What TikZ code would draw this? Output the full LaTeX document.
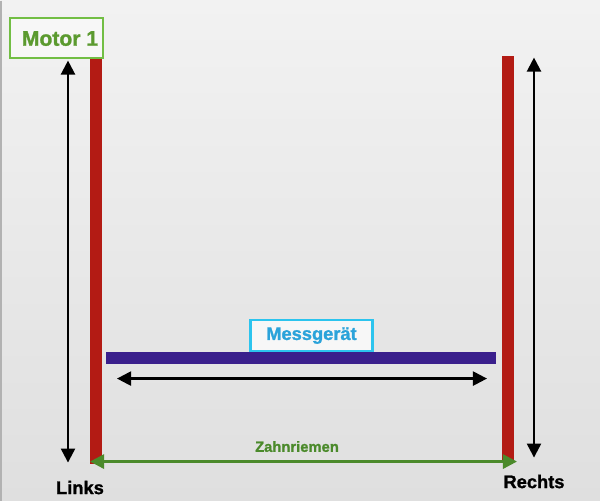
\documentclass[tikz,border=0pt]{standalone}
\usepackage{fontspec}
\setmainfont{Liberation Sans}
\newfontfamily\heavyfont{Liberation Sans Bold}[FakeBold=1.3]
\usetikzlibrary{arrows.meta,positioning}

\definecolor{bgtop}{HTML}{F2F2F2}
\definecolor{bgbot}{HTML}{DFDFDF}
\definecolor{railred}{HTML}{B31B14}
\definecolor{barblue}{HTML}{3A1F8C}
\definecolor{motorgreen}{HTML}{5B9A2F}
\definecolor{motorframe}{HTML}{72BE44}
\definecolor{beltgreen}{HTML}{4B8A2B}
\definecolor{gaugecyan}{HTML}{2BA3DA}
\definecolor{gaugeframe}{HTML}{2CC4EE}

\begin{document}
\begin{tikzpicture}[x=0.025cm, y=-0.025cm,
  rail/.style={fill=railred, draw=none},
  twoway/.style={line width=1.6pt, {Triangle[length=10pt, width=10pt]}-{Triangle[length=10pt, width=10pt]}},
  tag/.style={inner sep=0pt},
  framed/.style={draw, line width=1.5pt, inner sep=0pt, fill=bgtop!60}
]

% background
\shade[top color=bgtop, bottom color=bgbot] (0,0) rectangle (600,500);
\draw[gray!60, line width=0.8pt] (1,0) -- (1,500);
\useasboundingbox (0,0) rectangle (600,500);

% rails
\fill[rail] (90,58) rectangle (102,463);
\fill[rail] (502,55) rectangle (514,460);

% measuring bar
\fill[barblue] (106,351) rectangle (496,363);

% motor label
\node[framed, draw=motorframe, minimum width=93*0.025cm, minimum height=40*0.025cm] (motor) at (56.5,37) {};
\node[tag, text=motorgreen, font=\heavyfont\fontsize{15}{15}\selectfont] (motortxt) at (60,38) {Motor 1};

% gauge label
\node[framed, draw=gaugeframe, minimum width=122*0.025cm, minimum height=31*0.025cm] (gauge) at (311.5,334.5) {};
\node[tag, text=gaugecyan, font=\heavyfont\fontsize{13}{13}\selectfont] (gaugetxt) at (311.5,335) {Messgerät};

% end coordinates
\coordinate (lefttop) at (68,60);
\coordinate (leftbot) at (68,462);
\coordinate (righttop) at (534,57);
\coordinate (rightbot) at (534,457);
\coordinate (barleft) at (117,378);
\coordinate (barright) at (487,378);
\coordinate (beltleft) at (90,461);
\coordinate (beltright) at (517,461);

% arrows
\draw[twoway] (lefttop) -- (leftbot);
\draw[twoway] (righttop) -- (rightbot);
\draw[twoway] (barleft) -- (barright);
\draw[twoway, beltgreen, line width=2pt] (beltleft) -- (beltright);

% labels
\node[tag, text=beltgreen, font=\heavyfont\fontsize{10.5}{11}\selectfont] (belt) at (297,446) {Zahnriemen};
\node[tag, font=\heavyfont\fontsize{13}{13}\selectfont] (links) at (80,487) {Links};
\node[tag, font=\heavyfont\fontsize{13}{13}\selectfont] (rechts) at (534,481) {Rechts};

\end{tikzpicture}
\end{document}
